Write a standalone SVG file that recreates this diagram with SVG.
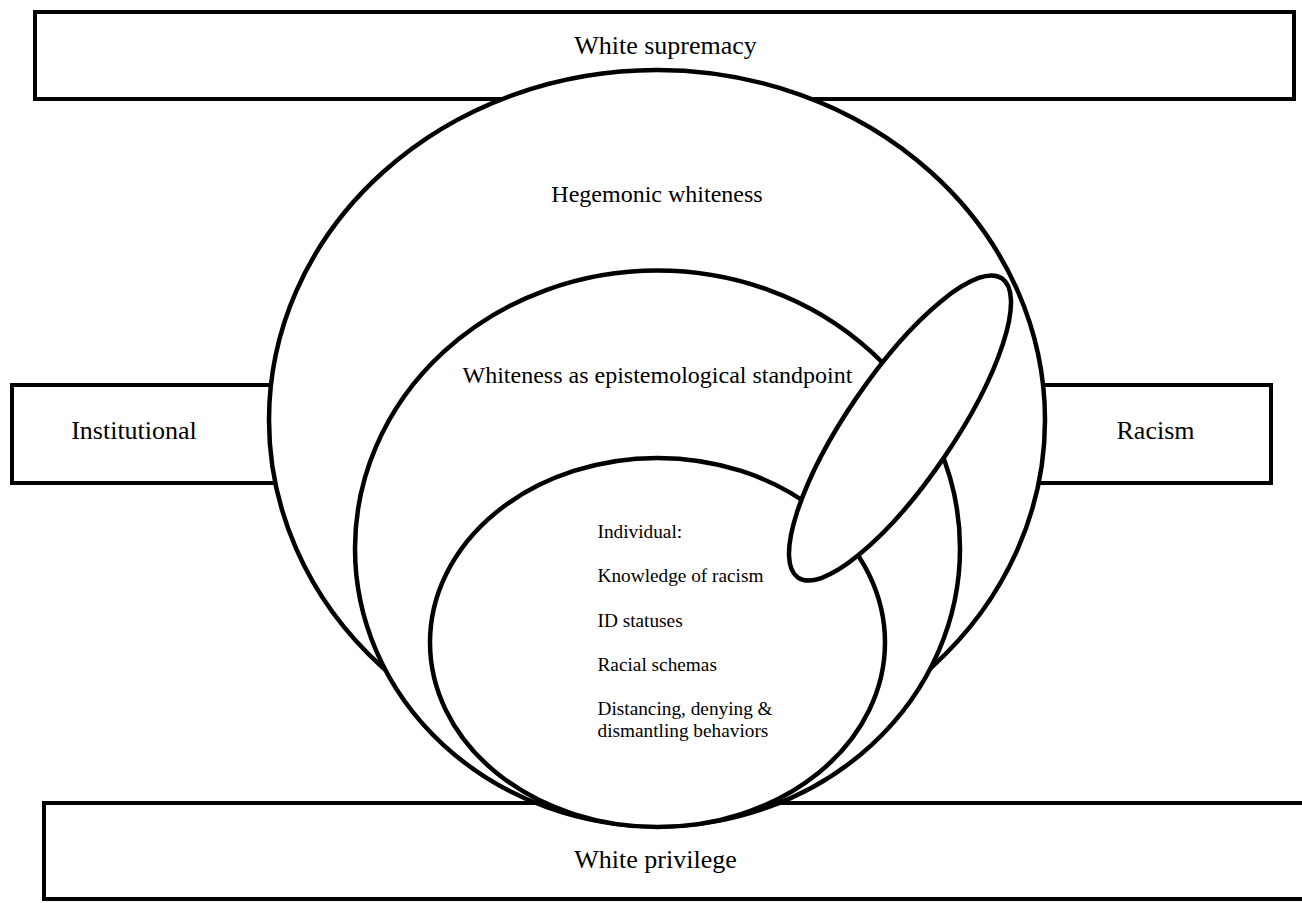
<svg xmlns="http://www.w3.org/2000/svg" width="1302" height="903" viewBox="0 0 1302 903">
<style>
.box{fill:#fff;stroke:#000;stroke-width:4}
.ell{fill:#fff;stroke:#000;stroke-width:4.5}
.lbl{font-family:"Liberation Serif","Times New Roman",serif;font-size:26px;fill:#000;text-anchor:middle}
.elbl{font-family:"Liberation Serif","Times New Roman",serif;font-size:24px;fill:#000;text-anchor:middle}
.item{font-family:"Liberation Serif","Times New Roman",serif;font-size:19.3px;fill:#000}
</style>
<rect width="1302" height="903" fill="#fff"/>
<g id="white-supremacy">
<rect class="box" x="35" y="12" width="1259" height="87"/>
<text class="lbl" x="665.5" y="54">White supremacy</text>
</g>
<g id="institutional">
<rect class="box" x="12" y="385" width="300" height="98"/>
<text class="lbl" x="134" y="439">Institutional</text>
</g>
<g id="racism">
<rect class="box" x="1000" y="385" width="271" height="98"/>
<text class="lbl" x="1155.5" y="439">Racism</text>
</g>
<g id="white-privilege">
<rect class="box" x="44" y="803" width="1300" height="96"/>
<text class="lbl" x="655.5" y="868">White privilege</text>
</g>
<g id="hegemonic-whiteness">
<ellipse class="ell" cx="657" cy="420" rx="388" ry="350"/>
<text class="elbl" x="657" y="202">Hegemonic whiteness</text>
</g>
<g id="epistemological-standpoint">
<ellipse class="ell" cx="657.5" cy="548.5" rx="302.5" ry="278"/>
<text class="elbl" x="657.5" y="383">Whiteness as epistemological standpoint</text>
</g>
<g id="individual">
<ellipse class="ell" cx="657.5" cy="642.5" rx="227.5" ry="184.5"/>
<text class="item" x="597.5" y="538">Individual:</text>
<text class="item" x="597.5" y="582">Knowledge of racism</text>
<text class="item" x="597.5" y="627">ID statuses</text>
<text class="item" x="597.5" y="671">Racial schemas</text>
<text class="item" x="597.5" y="715">Distancing, denying &amp;</text>
<text class="item" x="597.5" y="737">dismantling behaviors</text>
</g>
<g id="slanted-ellipse">
<ellipse class="ell" cx="900" cy="428" rx="181" ry="53" transform="rotate(-55.7 900 428)"/>
</g>
<g id="connectors"/>
</svg>
